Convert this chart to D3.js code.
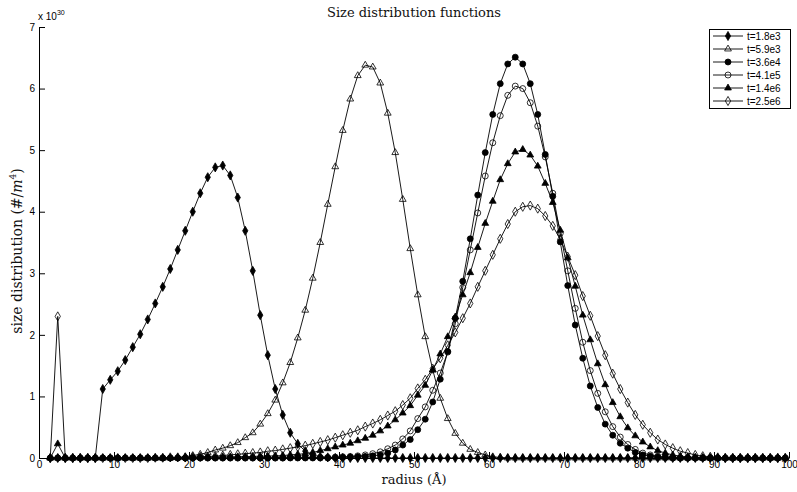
<!DOCTYPE html>
<html>
<head>
<meta charset="utf-8">
<script src="https://cdn.jsdelivr.net/npm/d3@7"></script>
<style>
  body { margin: 0; background: #fff; }
  .tick text { font-family: "Liberation Sans", Arial, sans-serif; font-size: 10px; }
</style>
</head>
<body>
<div id="chart"></div>
<script>
// radius grid (Angstrom)
var radius = [
  1.5, 2.5, 3.5, 4.5, 5.5, 6.5, 7.5, 8.5, 9.5, 10.5,
  11.5, 12.5, 13.5, 14.5, 15.5, 16.5, 17.5, 18.5, 19.5, 20.5,
  21.5, 22.5, 23.5, 24.5, 25.5, 26.5, 27.5, 28.5, 29.5, 30.5,
  31.5, 32.5, 33.5, 34.5, 35.5, 36.5, 37.5, 38.5, 39.5, 40.5,
  41.5, 42.5, 43.5, 44.5, 45.5, 46.5, 47.5, 48.5, 49.5, 50.5,
  51.5, 52.5, 53.5, 54.5, 55.5, 56.5, 57.5, 58.5, 59.5, 60.5,
  61.5, 62.5, 63.5, 64.5, 65.5, 66.5, 67.5, 68.5, 69.5, 70.5,
  71.5, 72.5, 73.5, 74.5, 75.5, 76.5, 77.5, 78.5, 79.5, 80.5,
  81.5, 82.5, 83.5, 84.5, 85.5, 86.5, 87.5, 88.5, 89.5, 90.5,
  91.5, 92.5, 93.5, 94.5, 95.5, 96.5, 97.5, 98.5, 99.5
];

// size distribution, units of 1e30 #/m^4
var t18e3 = [
  0, 0, 0, 0, 0, 0, 0, 1.12, 1.27, 1.41,
  1.59, 1.80, 2.01, 2.25, 2.51, 2.78, 3.07, 3.38, 3.69, 4.00,
  4.30, 4.56, 4.72, 4.75, 4.59, 4.23, 3.69, 3.04, 2.32, 1.67,
  1.12, 0.70, 0.41, 0.23, 0.11, 0.05, 0.02, 0.01, 0, 0,
  0, 0, 0, 0, 0, 0, 0, 0, 0, 0,
  0, 0, 0, 0, 0, 0, 0, 0, 0, 0,
  0, 0, 0, 0, 0, 0, 0, 0, 0, 0,
  0, 0, 0, 0, 0, 0, 0, 0, 0, 0,
  0, 0, 0, 0, 0, 0, 0, 0, 0, 0,
  0, 0, 0, 0, 0, 0, 0, 0, 0
];
var t59e3 = [
  0, 0, 0, 0, 0, 0, 0, 0, 0, 0,
  0, 0, 0, 0, 0, 0, 0, 0.01, 0.02, 0.04,
  0.06, 0.09, 0.13, 0.16, 0.20, 0.25, 0.33, 0.41, 0.55, 0.72,
  0.94, 1.22, 1.55, 1.95, 2.40, 2.92, 3.50, 4.12, 4.73, 5.32,
  5.83, 6.21, 6.38, 6.35, 6.09, 5.60, 4.96, 4.20, 3.40, 2.65,
  1.97, 1.43, 0.97, 0.64, 0.40, 0.24, 0.14, 0.09, 0.05, 0.02,
  0.01, 0, 0, 0, 0, 0, 0, 0, 0, 0,
  0, 0, 0, 0, 0, 0, 0, 0, 0, 0,
  0, 0, 0, 0, 0, 0, 0, 0, 0, 0,
  0, 0, 0, 0, 0, 0, 0, 0, 0
];
var t36e4 = [
  0, 0, 0, 0, 0, 0, 0, 0, 0, 0,
  0, 0, 0, 0, 0, 0, 0, 0, 0, 0,
  0, 0, 0, 0, 0, 0, 0, 0, 0, 0,
  0, 0, 0, 0, 0, 0, 0, 0, 0.005, 0.01,
  0.015, 0.02, 0.025, 0.035, 0.05, 0.08, 0.13, 0.21, 0.30, 0.46,
  0.63, 0.91, 1.28, 1.73, 2.27, 2.87, 3.56, 4.27, 4.96, 5.58,
  6.08, 6.40, 6.51, 6.40, 6.08, 5.58, 4.93, 4.25, 3.51, 2.80,
  2.16, 1.62, 1.17, 0.82, 0.55, 0.37, 0.24, 0.16, 0.09, 0.05,
  0.03, 0.015, 0.01, 0, 0, 0, 0, 0, 0, 0,
  0, 0, 0, 0, 0, 0, 0, 0, 0
];
var t41e5 = [
  0, 0, 0, 0, 0, 0, 0, 0, 0, 0,
  0, 0, 0, 0, 0, 0, 0, 0, 0, 0,
  0, 0, 0, 0, 0, 0, 0, 0, 0, 0,
  0, 0, 0.005, 0.005, 0.005, 0.008, 0.01, 0.01, 0.015, 0.02,
  0.025, 0.035, 0.05, 0.07, 0.10, 0.15, 0.21, 0.31, 0.44, 0.64,
  0.83, 1.10, 1.38, 1.72, 2.18, 2.77, 3.38, 3.98, 4.58, 5.12,
  5.56, 5.89, 6.04, 6.00, 5.77, 5.39, 4.89, 4.30, 3.65, 3.04,
  2.43, 1.88, 1.42, 1.05, 0.75, 0.51, 0.34, 0.22, 0.14, 0.08,
  0.05, 0.03, 0.015, 0.01, 0, 0, 0, 0, 0, 0,
  0, 0, 0, 0, 0, 0, 0, 0, 0
];
var t14e6 = [
  0, 0.23, 0, 0, 0, 0, 0, 0, 0, 0,
  0, 0, 0, 0, 0, 0, 0.005, 0.005, 0.01, 0.01,
  0.01, 0.015, 0.015, 0.02, 0.02, 0.02, 0.025, 0.025, 0.03, 0.03,
  0.035, 0.04, 0.05, 0.06, 0.07, 0.09, 0.12, 0.15, 0.18, 0.21,
  0.24, 0.28, 0.32, 0.37, 0.44, 0.52, 0.62, 0.73, 0.85, 1.02,
  1.18, 1.43, 1.69, 1.97, 2.29, 2.65, 3.01, 3.42, 3.81, 4.17,
  4.52, 4.78, 4.97, 5.01, 4.92, 4.74, 4.46, 4.15, 3.70, 3.25,
  2.79, 2.32, 1.92, 1.53, 1.19, 0.90, 0.67, 0.49, 0.36, 0.26,
  0.18, 0.12, 0.08, 0.05, 0.03, 0.02, 0.01, 0, 0, 0,
  0, 0, 0, 0, 0, 0, 0, 0, 0
];
var t25e6 = [
  0, 2.30, 0, 0, 0, 0, 0, 0, 0, 0,
  0, 0, 0, 0, 0.005, 0.005, 0.01, 0.01, 0.01, 0.015,
  0.02, 0.025, 0.03, 0.04, 0.05, 0.06, 0.07, 0.08, 0.09, 0.11,
  0.12, 0.14, 0.16, 0.18, 0.20, 0.23, 0.26, 0.29, 0.33, 0.37,
  0.41, 0.45, 0.51, 0.56, 0.62, 0.69, 0.76, 0.86, 0.97, 1.13,
  1.27, 1.45, 1.62, 1.83, 2.04, 2.27, 2.51, 2.78, 3.04, 3.30,
  3.56, 3.80, 4.00, 4.08, 4.10, 4.05, 3.93, 3.77, 3.55, 3.27,
  2.97, 2.63, 2.31, 1.98, 1.67, 1.37, 1.12, 0.90, 0.70, 0.54,
  0.41, 0.30, 0.22, 0.16, 0.11, 0.08, 0.05, 0.03, 0.02, 0.01,
  0, 0, 0, 0, 0, 0, 0, 0, 0
];

var labels = ["t=1.8e3", "t=5.9e3", "t=3.6e4", "t=4.1e5", "t=1.4e6", "t=2.5e6"];
var xTicks = [0, 10, 20, 30, 40, 50, 60, 70, 80, 90, 100];
var yTicks = [0, 1, 2, 3, 4, 5, 6, 7];

var seriesList = [t18e3, t59e3, t36e4, t41e5, t14e6, t25e6];
// marker styles: open markers are unfilled, like matlab's default
var markers = [
  {type: d3.symbolDiamond, size: 24, fill: "#000"},
  {type: d3.symbolTriangle, size: 20, fill: "none"},
  {type: d3.symbolCircle, size: 28, fill: "#000"},
  {type: d3.symbolCircle, size: 28, fill: "none"},
  {type: d3.symbolTriangle, size: 20, fill: "#000"},
  {type: d3.symbolDiamond, size: 24, fill: "none"}
];

var W = 797, H = 492;
var svg = d3.select("#chart").append("svg")
  .attr("width", W).attr("height", H);

var pArea = [39, 27, 789, 458];

var x = d3.scaleLinear().domain([0, 100]).range([pArea[0], pArea[2]]);
var y = d3.scaleLinear().domain([0, 7]).range([pArea[3], pArea[1]]);

// axes (ticks pointing inward, no box)
var gx = svg.append("g")
  .attr("transform", `translate(0,${pArea[3]})`)
  .call(d3.axisBottom(x).tickValues(xTicks).tickFormat(d3.format("d"))
    .tickSizeInner(-6).tickSizeOuter(0).tickPadding(3));
gx.select(".domain").attr("stroke", "#000");
gx.selectAll(".tick line").attr("stroke", "#000");
gx.selectAll(".tick text").attr("fill", "#000");

var gy = svg.append("g")
  .attr("transform", `translate(${pArea[0]},0)`)
  .call(d3.axisLeft(y).tickValues(yTicks).tickFormat(d3.format("d"))
    .tickSizeInner(-6).tickSizeOuter(0).tickPadding(4));
gy.select(".domain").attr("stroke", "#000");
gy.selectAll(".tick line").attr("stroke", "#000");
gy.selectAll(".tick text").attr("fill", "#000");

// exponent label
var ex = svg.append("text")
  .attr("x", 38).attr("y", 20)
  .attr("font-family", "Liberation Sans, Arial, sans-serif")
  .attr("font-size", 10);
ex.append("tspan").text("x 10");
ex.append("tspan").attr("font-size", 7).attr("dy", -5).text("30");

// lines and markers
var line = d3.line()
  .x(function(d, i) { return x(radius[i]); })
  .y(function(d) { return y(d); });

seriesList.forEach(function(vals, k) {
  var g = svg.append("g");
  g.append("path")
    .attr("d", line(vals))
    .attr("fill", "none")
    .attr("stroke", "#000")
    .attr("stroke-width", 0.9);
  var sym = d3.symbol().type(markers[k].type).size(markers[k].size);
  g.selectAll("path.m")
    .data(vals)
    .enter().append("path")
    .attr("class", "m")
    .attr("d", sym)
    .attr("transform", function(d, i) { return `translate(${x(radius[i])},${y(d)})`; })
    .attr("fill", markers[k].fill)
    .attr("stroke", "#000")
    .attr("stroke-width", 0.8);
});

// title and axis labels
svg.append("text")
  .attr("x", 414).attr("y", 17)
  .attr("text-anchor", "middle")
  .attr("font-family", "DejaVu Serif, serif")
  .attr("font-size", 13)
  .attr("fill", "#111")
  .text("Size distribution functions");

svg.append("text")
  .attr("x", 414).attr("y", 484)
  .attr("text-anchor", "middle")
  .attr("font-family", "DejaVu Serif, serif")
  .attr("font-size", 13)
  .attr("fill", "#111")
  .text("radius (Å)");

var yl = svg.append("text")
  .attr("transform", "translate(22,251) rotate(-90)")
  .attr("text-anchor", "middle")
  .attr("font-family", "DejaVu Serif, serif")
  .attr("font-size", 14)
  .attr("fill", "#111");
yl.append("tspan").text("size distribution (#/");
yl.append("tspan").attr("font-style", "italic").text("m");
yl.append("tspan").attr("font-size", 9).attr("dy", -6).text("4");
yl.append("tspan").attr("dy", 6).text(")");

// legend
var leg = svg.append("g");
leg.append("rect")
  .attr("x", 709.5).attr("y", 29.5)
  .attr("width", 81).attr("height", 79)
  .attr("fill", "#fff").attr("stroke", "#000");

labels.forEach(function(lab, k) {
  var ly = 36 + k * 13;
  leg.append("line")
    .attr("x1", 713).attr("x2", 743)
    .attr("y1", ly).attr("y2", ly)
    .attr("stroke", "#000").attr("stroke-width", 0.9);
  leg.append("path")
    .attr("d", d3.symbol().type(markers[k].type).size(markers[k].size)())
    .attr("transform", `translate(728,${ly})`)
    .attr("fill", markers[k].fill)
    .attr("stroke", "#000")
    .attr("stroke-width", 0.8);
  leg.append("text")
    .attr("x", 747).attr("y", ly)
    .attr("dy", "0.35em")
    .attr("font-family", "Liberation Sans, Arial, sans-serif")
    .attr("font-size", 10)
    .text(lab);
});
</script>
</body>
</html>
